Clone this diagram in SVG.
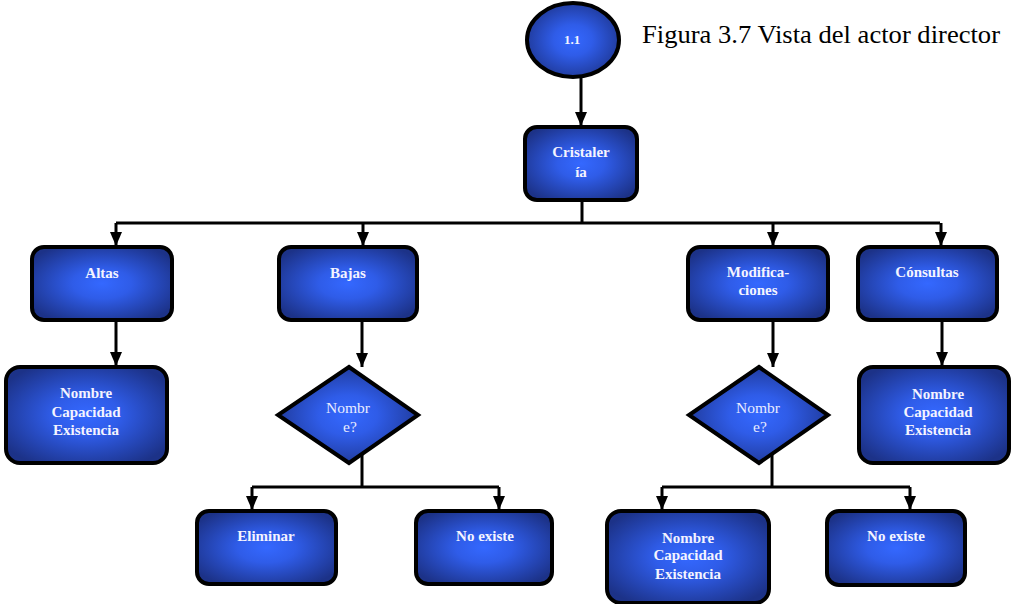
<svg xmlns="http://www.w3.org/2000/svg" width="1011" height="604" viewBox="0 0 1011 604">
  <defs>
    <radialGradient id="blueFill" cx="50%" cy="50%" r="60%">
      <stop offset="0" stop-color="#3468ff"/>
      <stop offset="0.35" stop-color="#2f5ce8"/>
      <stop offset="1" stop-color="#1c3288"/>
    </radialGradient>
    <marker id="arrow" markerUnits="userSpaceOnUse" markerWidth="16" markerHeight="12" refX="14" refY="6" orient="auto">
      <path d="M0,0 L14,6 L0,12 Z" fill="#000"/>
    </marker>
    <style>
      .box { fill: url(#blueFill); stroke: #000; stroke-width: 4; }
      .lbl { font-family: "Liberation Serif", "Times New Roman", serif; font-size: 15px; font-weight: bold; fill: #f4f4ff; text-anchor: middle; }
      .lblq { font-family: "Liberation Serif", "Times New Roman", serif; font-size: 15.5px; fill: #e8ecff; text-anchor: middle; }
      .conn { fill: none; stroke: #000; stroke-width: 3; }
      .title { font-family: "Liberation Serif", "Times New Roman", serif; font-size: 25px; fill: #000; }
    </style>
  </defs>
  <rect width="1011" height="604" fill="#fff"/>

  <text class="title" x="642" y="43" textLength="358" lengthAdjust="spacingAndGlyphs">Figura 3.7 Vista del actor director</text>

  <!-- connectors -->
  <g id="connectors">
    <path class="conn" d="M581,77 V126" marker-end="url(#arrow)"/>
    <path class="conn" d="M582,200 V223"/>
    <path class="conn" d="M116,223 H940"/>
    <path class="conn" d="M116,223 V246" marker-end="url(#arrow)"/>
    <path class="conn" d="M363,223 V246" marker-end="url(#arrow)"/>
    <path class="conn" d="M773,223 V246" marker-end="url(#arrow)"/>
    <path class="conn" d="M941,223 V246" marker-end="url(#arrow)"/>
    <path class="conn" d="M116,320 V366" marker-end="url(#arrow)"/>
    <path class="conn" d="M362,320 V367" marker-end="url(#arrow)"/>
    <path class="conn" d="M773,320 V367" marker-end="url(#arrow)"/>
    <path class="conn" d="M942,320 V366" marker-end="url(#arrow)"/>
    <path class="conn" d="M362,454 V487"/>
    <path class="conn" d="M252,487 H499"/>
    <path class="conn" d="M252,487 V510" marker-end="url(#arrow)"/>
    <path class="conn" d="M499,487 V510" marker-end="url(#arrow)"/>
    <path class="conn" d="M772,454 V487"/>
    <path class="conn" d="M662,487 H910"/>
    <path class="conn" d="M662,487 V510" marker-end="url(#arrow)"/>
    <path class="conn" d="M910,487 V510" marker-end="url(#arrow)"/>
  </g>

  <g id="n-1-1">
    <ellipse class="box" cx="573" cy="40" rx="46" ry="37"/>
    <text class="lbl" x="572" y="44" style="font-size:13px">1.1</text>
  </g>

  <g id="n-cristaleria">
    <rect class="box" x="525" y="127" width="112" height="73" rx="12"/>
    <text class="lbl" x="581" y="157">Cristaler</text>
    <text class="lbl" x="581" y="177">ía</text>
  </g>

  <g id="n-altas">
    <rect class="box" x="32" y="247" width="140" height="73" rx="12"/>
    <text class="lbl" x="102" y="278">Altas</text>
  </g>

  <g id="n-bajas">
    <rect class="box" x="279" y="247" width="138" height="73" rx="12"/>
    <text class="lbl" x="348" y="278">Bajas</text>
  </g>

  <g id="n-modificaciones">
    <rect class="box" x="688" y="247" width="140" height="73" rx="12"/>
    <text class="lbl" x="758" y="277">Modifica-</text>
    <text class="lbl" x="758" y="295">ciones</text>
  </g>

  <g id="n-consultas">
    <rect class="box" x="858" y="247" width="139" height="73" rx="12"/>
    <text class="lbl" x="927" y="277">Cónsultas</text>
  </g>

  <g id="n-altas-datos">
    <rect class="box" x="6" y="367" width="161" height="96" rx="14"/>
    <text class="lbl" x="86" y="398">Nombre</text>
    <text class="lbl" x="86" y="417">Capacidad</text>
    <text class="lbl" x="86" y="435">Existencia</text>
  </g>

  <g id="n-bajas-nombre">
    <polygon class="box" points="349,367 418,415 349,463 278,415"/>
    <text class="lblq" x="348" y="413">Nombr</text>
    <text class="lblq" x="350" y="432">e?</text>
  </g>

  <g id="n-modif-nombre">
    <polygon class="box" points="759,367 828,415 759,463 689,415"/>
    <text class="lblq" x="758" y="413">Nombr</text>
    <text class="lblq" x="760" y="432">e?</text>
  </g>

  <g id="n-consultas-datos">
    <rect class="box" x="859" y="367" width="150" height="96" rx="14"/>
    <text class="lbl" x="938" y="399">Nombre</text>
    <text class="lbl" x="938" y="417">Capacidad</text>
    <text class="lbl" x="938" y="435">Existencia</text>
  </g>

  <g id="n-eliminar">
    <rect class="box" x="197" y="511" width="139" height="73" rx="12"/>
    <text class="lbl" x="266" y="541">Eliminar</text>
  </g>

  <g id="n-bajas-noexiste">
    <rect class="box" x="416" y="511" width="136" height="73" rx="12"/>
    <text class="lbl" x="485" y="541">No existe</text>
  </g>

  <g id="n-modif-datos">
    <rect class="box" x="607" y="511" width="162" height="92" rx="14"/>
    <text class="lbl" x="688" y="543">Nombre</text>
    <text class="lbl" x="688" y="560">Capacidad</text>
    <text class="lbl" x="688" y="579">Existencia</text>
  </g>

  <g id="n-modif-noexiste">
    <rect class="box" x="827" y="511" width="138" height="74" rx="12"/>
    <text class="lbl" x="896" y="541">No existe</text>
  </g>
</svg>
